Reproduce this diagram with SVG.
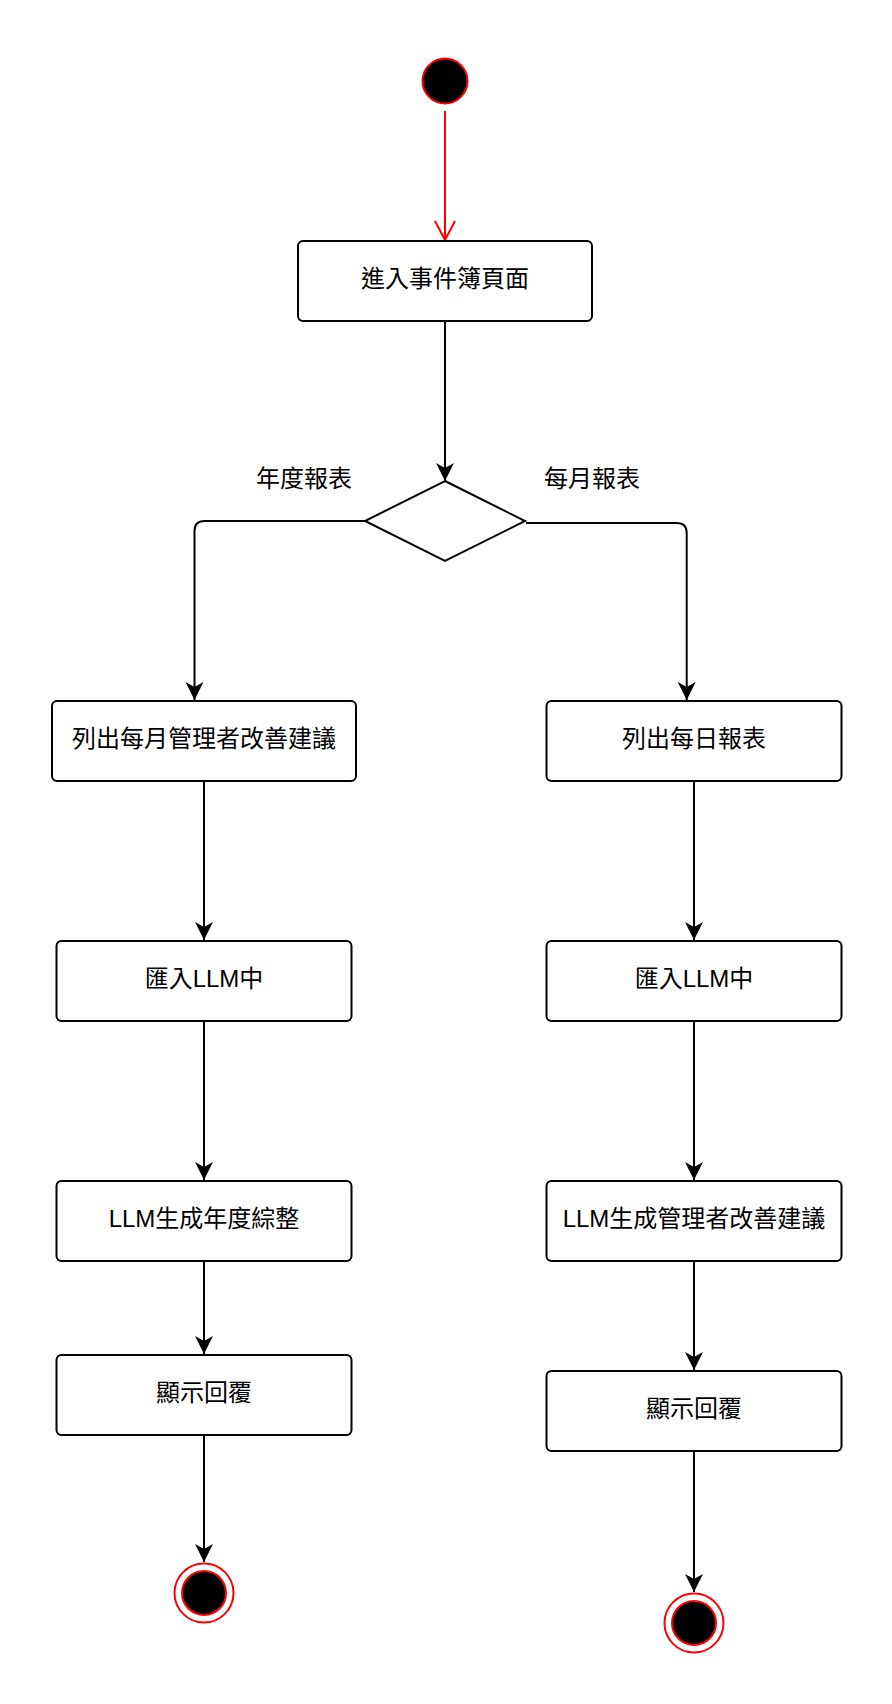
<svg xmlns="http://www.w3.org/2000/svg" width="892" height="1704" viewBox="0 0 892 1704">
<style>
.box{fill:#fff;stroke:#000;stroke-width:2}
.lbl{font-family:"Liberation Sans","Noto Sans CJK TC",sans-serif;font-size:24px;fill:#000;text-anchor:middle;dominant-baseline:central}
.edge{fill:none;stroke:#000;stroke-width:2}
</style>
<defs>
<marker id="arr" viewBox="0 0 20 20" refX="18" refY="10" markerWidth="20" markerHeight="20" markerUnits="userSpaceOnUse" orient="auto">
<path d="M0,1 L18,10 L0,19 L5,10 Z" fill="#000"/>
</marker>
</defs>
<rect width="892" height="1704" fill="#fff"/>
<g id="edges">
<line x1="445" y1="111" x2="445" y2="240" stroke="#f00" stroke-width="2"/>
<polyline points="435,221 445,240 455,221" fill="none" stroke="#f00" stroke-width="2"/>
<line class="edge" x1="445" y1="321" x2="445" y2="481" marker-end="url(#arr)"/>
<path class="edge" d="M365,521 H204.5 Q194.5,521 194.5,531 V700" marker-end="url(#arr)"/>
<path class="edge" d="M526,523 H676.7 Q686.7,523 686.7,533 V700" marker-end="url(#arr)"/>
<line class="edge" x1="204" y1="781" x2="204" y2="940" marker-end="url(#arr)"/>
<line class="edge" x1="204" y1="1021" x2="204" y2="1180" marker-end="url(#arr)"/>
<line class="edge" x1="204" y1="1261" x2="204" y2="1354" marker-end="url(#arr)"/>
<line class="edge" x1="204" y1="1435" x2="204" y2="1562" marker-end="url(#arr)"/>
<line class="edge" x1="694" y1="781" x2="694" y2="940" marker-end="url(#arr)"/>
<line class="edge" x1="694" y1="1021" x2="694" y2="1180" marker-end="url(#arr)"/>
<line class="edge" x1="694" y1="1261" x2="694" y2="1370" marker-end="url(#arr)"/>
<line class="edge" x1="694" y1="1451" x2="694" y2="1592" marker-end="url(#arr)"/>
<text class="lbl" x="304" y="478">年度報表</text>
<text class="lbl" x="592" y="478">每月報表</text>
</g>
<g id="start"><circle cx="445" cy="81" r="22.5" fill="#000" stroke="#f00" stroke-width="2"/></g>
<g id="n1"><rect class="box" x="298" y="241" width="294" height="80" rx="5"/><text class="lbl" x="445" y="278">進入事件簿頁面</text></g>
<g id="decision"><polygon points="445,481 525,521 445,561 365,521" fill="#fff" stroke="#000" stroke-width="2"/></g>
<g id="l1"><rect class="box" x="52" y="701" width="304" height="80" rx="5"/><text class="lbl" x="204" y="738">列出每月管理者改善建議</text></g>
<g id="l2"><rect class="box" x="56.5" y="941" width="295" height="80" rx="5"/><text class="lbl" x="204" y="978">匯入LLM中</text></g>
<g id="l3"><rect class="box" x="56.5" y="1181" width="295" height="80" rx="5"/><text class="lbl" x="204" y="1218">LLM生成年度綜整</text></g>
<g id="l4"><rect class="box" x="56.5" y="1355" width="295" height="80" rx="5"/><text class="lbl" x="204" y="1392">顯示回覆</text></g>
<g id="r1"><rect class="box" x="546.5" y="701" width="295" height="80" rx="5"/><text class="lbl" x="694" y="738">列出每日報表</text></g>
<g id="r2"><rect class="box" x="546.5" y="941" width="295" height="80" rx="5"/><text class="lbl" x="694" y="978">匯入LLM中</text></g>
<g id="r3"><rect class="box" x="546.5" y="1181" width="295" height="80" rx="5"/><text class="lbl" x="694" y="1218">LLM生成管理者改善建議</text></g>
<g id="r4"><rect class="box" x="546.5" y="1371" width="295" height="80" rx="5"/><text class="lbl" x="694" y="1408">顯示回覆</text></g>
<g id="endL"><circle cx="204" cy="1593" r="29.5" fill="#fff" stroke="#f00" stroke-width="2"/><circle cx="204" cy="1593" r="22" fill="#000" stroke="#f00" stroke-width="2"/></g>
<g id="endR"><circle cx="694" cy="1623" r="29.5" fill="#fff" stroke="#f00" stroke-width="2"/><circle cx="694" cy="1623" r="22" fill="#000" stroke="#f00" stroke-width="2"/></g>
</svg>
